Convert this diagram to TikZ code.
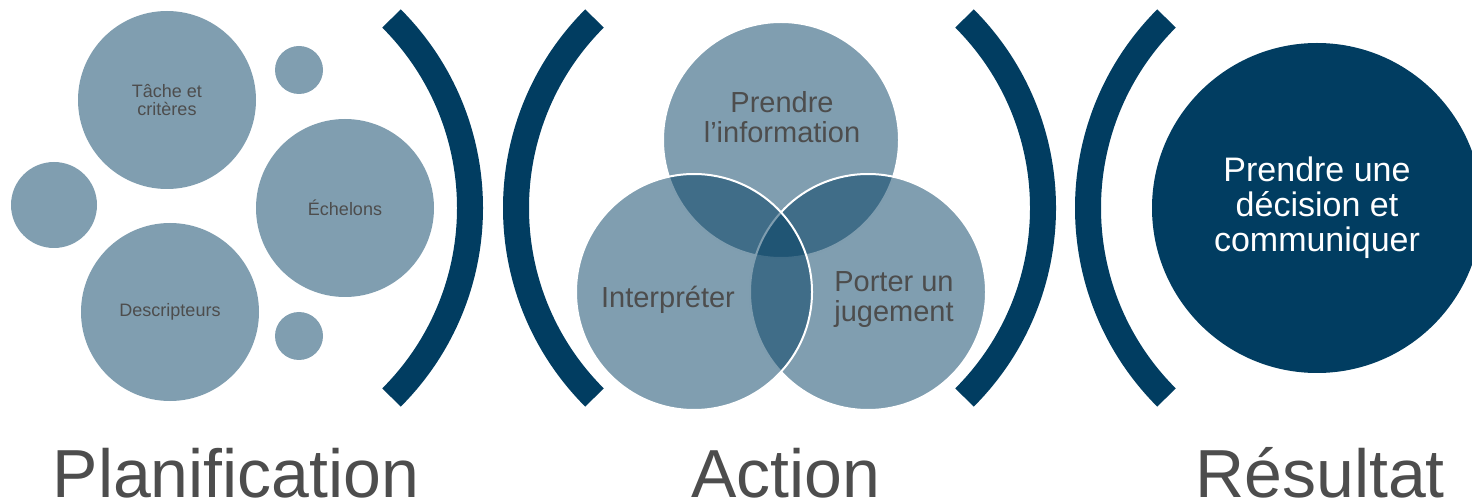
\documentclass[tikz,border=0pt]{standalone}
\usepackage{fontspec}
\setmainfont{Liberation Sans}
\definecolor{navy}{RGB}{1,61,97}
\definecolor{txtgrey}{RGB}{77,77,77}
\begin{document}
\begin{tikzpicture}[x=1pt,y=1pt,
  pcirc/.style={circle, fill=navy!50, inner sep=0pt, minimum size=#1, text=txtgrey,
    font=\fontsize{18}{18}\selectfont, align=center},
  vcirc/.style={circle, fill=navy, fill opacity=0.5, text opacity=1, draw=white, line width=2pt,
    inner sep=0pt, minimum size=236pt},
  vlabel/.style={text=txtgrey, font=\fontsize{29}{30}\selectfont, align=center},
  paren/.style={draw=navy, line width=26pt},
  bigtitle/.style={text=txtgrey, font=\fontsize{68}{68}\selectfont, anchor=base,
    inner sep=0pt, text depth=0pt}
]
\useasboundingbox (0,0) rectangle (1472,-502);
\clip (0,0) rectangle (1472,-502);

% Planification
\node[pcirc=178pt] (tache) at (167,-100) {Tâche et\\critères};
\node[pcirc=48pt] (s1) at (299,-70) {};
\node[pcirc=86pt] (s2) at (54,-205) {};
\node[pcirc=178pt] (echelons) at (345,-208) {Échelons};
\node[pcirc=178pt] (descr) at (170,-312) {Descripteurs};
\node[pcirc=48pt] (s3) at (299,-336) {};

% brackets
\draw[paren] (202,-208) ++(-45:268pt) arc[start angle=-45, end angle=45, radius=268pt];
\draw[paren] (784,-208) ++(135:268pt) arc[start angle=135, end angle=225, radius=268pt];
\draw[paren] (775,-208) ++(-45:268pt) arc[start angle=-45, end angle=45, radius=268pt];
\draw[paren] (1356,-208) ++(135:268pt) arc[start angle=135, end angle=225, radius=268pt];

% Venn
\node[vcirc] (vtop) at (781,-140) {};
\node[vcirc] (vright) at (868,-292) {};
\node[vcirc] (vleft) at (694,-292) {};
\node[vlabel] (ltop) at (782,-117) {Prendre\\l’information};
\node[vlabel] (lleft) at (668,-300) {Interpréter};
\node[vlabel] (lright) at (894,-300) {Porter un\\jugement};

% Result
\node[circle, fill=navy, minimum size=330pt, inner sep=0pt, text=white,
  font=\fontsize{34}{35}\selectfont, align=center] (res) at (1317,-208)
  {Prendre une\\décision et\\communiquer};

% titles
\node[bigtitle] (t1) at (236,-497) {Planification};
\node[bigtitle] (t2) at (786,-497) {Action};
\node[bigtitle] (t3) at (1320,-497) {Résultat};
\end{tikzpicture}
\end{document}
